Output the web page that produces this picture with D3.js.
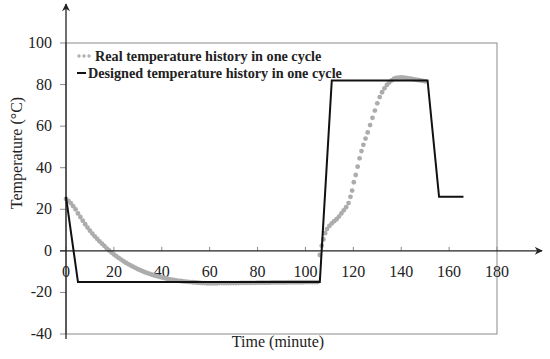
<!DOCTYPE html>
<html><head><meta charset="utf-8">
<script src="https://cdn.jsdelivr.net/npm/d3@7"></script>
<style>body{margin:0;background:#fff}svg{display:block}</style>
</head><body>
<script>
// ---- data ----
const designedTime = [0, 5, 106, 111, 151, 155.8, 166];
const designedTemp = [26, -15, -15, 82, 82, 26, 26];

const realTime = [0,1,2,3,4,5,6,7,8,9,10,11,12,13,14,15,16,17,18,19,20,21,22,23,24,25,26,27,28,29,30,31,32,33,34,35,36,37,38,39,40,41,42,43,44,45,46,47,48,49,50,51,52,53,54,55,56,57,58,59,60,61,62,63,64,65,66,67,68,69,70,71,72,73,74,75,76,77,78,79,80,81,82,83,84,85,86,87,88,89,90,91,92,93,94,95,96,97,98,99,100,101,102,103,104,105,
  106,106.8,107.5,108.2,109,110,111,112,113,114,115,116,117,118,118.8,119.5,120.2,121,121.8,122.6,123.4,124.2,125.1,126,127,128,129,130,131,132,133,134,135,136,137,138,139,140,141,142,143,144,145,146,147,148,149,150];
const realTemp = [25,24,23,21.5,20,18,16.3,14.5,12.8,11.2,9.7,8.3,7,5.8,4.6,3.5,2.4,1.2,0.2,-0.8,-1.7,-2.6,-3.4,-4.2,-5,-5.7,-6.4,-7,-7.6,-8.2,-8.8,-9.3,-9.8,-10.3,-10.7,-11.1,-11.5,-11.9,-12.2,-12.5,-12.8,-13.1,-13.3,-13.6,-13.8,-14,-14.2,-14.4,-14.5,-14.7,-14.8,-14.9,-15,-15.1,-15.2,-15.3,-15.4,-15.5,-15.5,-15.6,-15.6,-15.6,-15.6,-15.6,-15.5,-15.5,-15.5,-15.5,-15.5,-15.5,-15.5,-15.5,-15.5,-15.4,-15.4,-15.4,-15.4,-15.4,-15.4,-15.4,-15.3,-15.3,-15.3,-15.3,-15.3,-15.3,-15.2,-15.2,-15.2,-15.2,-15.2,-15.2,-15.2,-15.1,-15.1,-15.1,-15.1,-15.1,-15.1,-15.1,-15,-15,-15,-15,-15,-15,
  -2,2.5,5.5,8.5,10.5,12,13.2,14.3,15.2,16.5,18,19.5,21,23,26,29,33,36.5,40.5,44.5,48,51,54,57,60.5,64,67.5,71,74,76.3,78.2,79.8,81,82,82.8,83.2,83.3,83.4,83.3,83.2,83,82.8,82.6,82.4,82.2,82,81.8,81.5,81.2,81];

const xTicks = [0,20,40,60,80,100,120,140,160,180];
const yTicks = [-40,-20,0,20,40,60,80,100];
const legendLabels = ["Real temperature history in one cycle", "Designed temperature history in one cycle"];

// ---- layout ----
const W = 550, H = 359;
const svg = d3.select("body").append("svg").attr("width", W).attr("height", H);
const x = d3.scaleLinear().domain([0, 180]).range([66, 497]);
const y = d3.scaleLinear().domain([-40, 100]).range([334, 43]);
const serif = "'Liberation Serif','Times New Roman',serif";
const txt = "#222";

// plot border (gray)
svg.append("rect").attr("x", x(0)).attr("y", y(100))
  .attr("width", x(180) - x(0)).attr("height", y(-40) - y(100))
  .attr("fill", "none").attr("stroke", "#8a8a8a").attr("stroke-width", 1);

// y ticks
svg.append("g").selectAll("line").data(yTicks).join("line")
  .attr("x1", x(0) - 6).attr("x2", x(0)).attr("y1", d => y(d)).attr("y2", d => y(d))
  .attr("stroke", "#8a8a8a");
svg.append("g").selectAll("text").data(yTicks).join("text")
  .attr("x", x(0) - 14).attr("y", d => y(d) + 5).attr("text-anchor", "end")
  .attr("font-family", serif).attr("font-size", 16).attr("fill", txt).text(d => d);

// x ticks (on zero line)
svg.append("g").selectAll("line").data(xTicks).join("line")
  .attr("x1", d => x(d)).attr("x2", d => x(d)).attr("y1", y(0) - 4).attr("y2", y(0))
  .attr("stroke", "#8a8a8a");
svg.append("g").selectAll("text").data(xTicks).join("text")
  .attr("x", d => x(d)).attr("y", y(0) + 26).attr("text-anchor", "middle")
  .attr("font-family", serif).attr("font-size", 16).attr("fill", txt).text(d => d);

// real data dots
const real = realTime.map((t, i) => ({t, v: realTemp[i]}));
svg.append("g").selectAll("circle").data(real).join("circle")
  .attr("cx", d => x(d.t)).attr("cy", d => y(d.v)).attr("r", 2.4)
  .attr("fill", "#acacac");

// axes with arrows
const defs = svg.append("defs");
defs.append("marker").attr("id", "arr").attr("viewBox", "0 0 10 10")
  .attr("refX", 9).attr("refY", 5).attr("markerWidth", 10).attr("markerHeight", 8)
  .attr("markerUnits", "userSpaceOnUse").attr("orient", "auto")
  .append("path").attr("d", "M0,0 L10,5 L0,10 L3,5 Z").attr("fill", "#222");
svg.append("line").attr("x1", x(0) - 6).attr("x2", 542).attr("y1", y(0)).attr("y2", y(0))
  .attr("stroke", "#222").attr("stroke-width", 1.3).attr("marker-end", "url(#arr)");
svg.append("line").attr("x1", x(0)).attr("x2", x(0)).attr("y1", 339).attr("y2", 4)
  .attr("stroke", "#222").attr("stroke-width", 1.3).attr("marker-end", "url(#arr)");

// designed line
const designed = designedTime.map((t, i) => ({t, v: designedTemp[i]}));
svg.append("path").datum(designed)
  .attr("d", d3.line().x(d => x(d.t)).y(d => y(d.v)))
  .attr("fill", "none").attr("stroke", "#111").attr("stroke-width", 2);

// legend
const lg = svg.append("g");
[0, 1, 2].forEach(i => lg.append("circle").attr("cx", 79 + i * 5).attr("cy", 56).attr("r", 1.7).attr("fill", "#b0b0b0"));
lg.append("line").attr("x1", 77).attr("x2", 86).attr("y1", 73).attr("y2", 73).attr("stroke", "#111").attr("stroke-width", 2);
lg.selectAll("text").data(legendLabels).join("text")
  .attr("x", (d, i) => i === 0 ? 95 : 88).attr("y", (d, i) => i === 0 ? 60.5 : 78)
  .attr("font-family", serif).attr("font-weight", "bold").attr("font-size", 14.2)
  .attr("fill", txt).text(d => d);

// axis titles
svg.append("text").attr("transform", "translate(22,153) rotate(-90)")
  .attr("text-anchor", "middle").attr("font-family", serif).attr("font-size", 16)
  .attr("fill", txt).text("Temperature (°C)");
svg.append("text").attr("x", 278).attr("y", 347).attr("text-anchor", "middle")
  .attr("font-family", serif).attr("font-size", 16).attr("fill", txt).text("Time (minute)");
</script>
</body></html>
